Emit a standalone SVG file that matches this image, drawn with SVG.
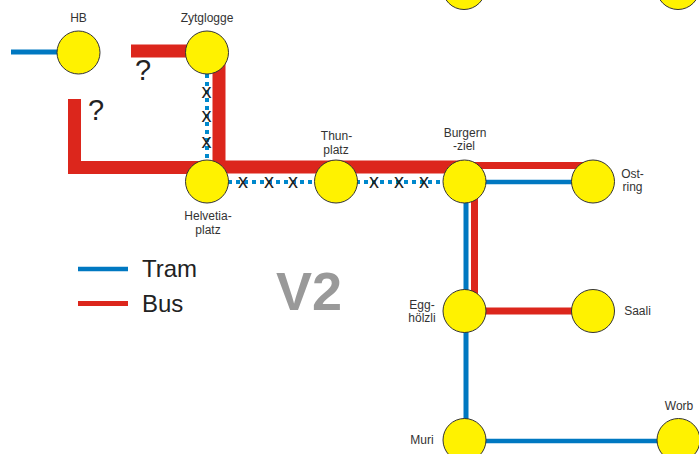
<svg xmlns="http://www.w3.org/2000/svg" width="699" height="454" viewBox="0 0 699 454">
<style>
text{font-family:"Liberation Sans",Arial,sans-serif;fill:#333}
.l{font-size:12px;text-anchor:middle}
.x{font-size:20px;text-anchor:middle;fill:#222}
.q{font-size:29px;fill:#222}
.k{font-size:24px;fill:#222}
.st{fill:#fff200;stroke:#333;stroke-width:1}
.t{fill:none;stroke:#0078c1}
.b{fill:none;stroke:#dc261c}
.d{fill:none;stroke:#0088cc;stroke-width:4;stroke-dasharray:4 4}
</style>
<rect width="699" height="454" fill="#fff"/>
<g id="connectors">
<path class="t" stroke-width="5" d="M11 52H60"/>
<path class="b" stroke-width="13" d="M131 51H207"/>
<path class="b" stroke-width="13" d="M74.500 99V167.500H207"/>
<path class="b" stroke-width="13" d="M219 60V167H464"/>
<path class="b" stroke-width="7" d="M464 165.500H593"/>
<path class="t" stroke-width="4.500" d="M464 182H593"/>
<path class="t" stroke-width="5" d="M466 182V440"/>
<path class="b" stroke-width="7" d="M474.500 182V311"/>
<path class="b" stroke-width="7" d="M464 311H593"/>
<path class="t" stroke-width="4.500" d="M464 441H678"/>
<path class="d" d="M207 74V160"/>
<path class="d" d="M228 182H443"/>
</g>
<g id="marks">
<text class="x" x="206.500" y="98">x</text>
<text class="x" x="206.500" y="122">x</text>
<text class="x" x="206.500" y="148">x</text>
<text class="x" x="243" y="188">x</text>
<text class="x" x="269" y="188">x</text>
<text class="x" x="293" y="188">x</text>
<text class="x" x="374" y="188">x</text>
<text class="x" x="399" y="188">x</text>
<text class="x" x="424" y="188">x</text>
<text class="q" x="135" y="80">?</text>
<text class="q" x="88" y="120">?</text>
</g>
<g id="top-1"><circle class="st" cx="464" cy="-12" r="21.500"/></g>
<g id="top-2"><circle class="st" cx="678" cy="-12" r="21.500"/></g>
<g id="hb"><circle class="st" cx="78.500" cy="52.500" r="21.500"/><text class="l" x="78.500" y="22">HB</text></g>
<g id="zytglogge"><circle class="st" cx="207" cy="52.500" r="21.500"/><text class="l" x="207" y="22">Zytglogge</text></g>
<g id="helvetiaplatz"><circle class="st" cx="207" cy="181.500" r="21.500"/><text class="l" x="208" y="220">Helvetia-</text><text class="l" x="208" y="234">platz</text></g>
<g id="thunplatz"><circle class="st" cx="336" cy="181.500" r="21.500"/><text class="l" x="336.500" y="140">Thun-</text><text class="l" x="336" y="154">platz</text></g>
<g id="burgernziel"><circle class="st" cx="464.500" cy="181.500" r="21.500"/><text class="l" x="465" y="137">Burgern</text><text class="l" x="464" y="150">-ziel</text></g>
<g id="ostring"><circle class="st" cx="593" cy="181.500" r="21.500"/><text class="l" x="632.500" y="178">Ost-</text><text class="l" x="632.500" y="191">ring</text></g>
<g id="eggholzli"><circle class="st" cx="464.500" cy="311" r="21.500"/><text class="l" x="422" y="309">Egg-</text><text class="l" x="422" y="322">hölzli</text></g>
<g id="saali"><circle class="st" cx="593" cy="311" r="21.500"/><text class="l" x="637.500" y="315">Saali</text></g>
<g id="muri"><circle class="st" cx="464.500" cy="440" r="21.500"/><text class="l" x="422" y="444">Muri</text></g>
<g id="worb"><circle class="st" cx="678.500" cy="440" r="21.500"/><text class="l" x="679" y="410">Worb</text></g>
<g id="legend">
<path class="t" stroke-width="4.500" d="M78 269H128"/>
<path class="b" stroke-width="5" d="M78 303.500H128"/>
<text class="k" x="142" y="276.500">Tram</text>
<text class="k" x="142" y="311.500">Bus</text>
</g>
<text x="276" y="310" font-size="54" font-weight="700" style="fill:#999">V2</text>
</svg>
